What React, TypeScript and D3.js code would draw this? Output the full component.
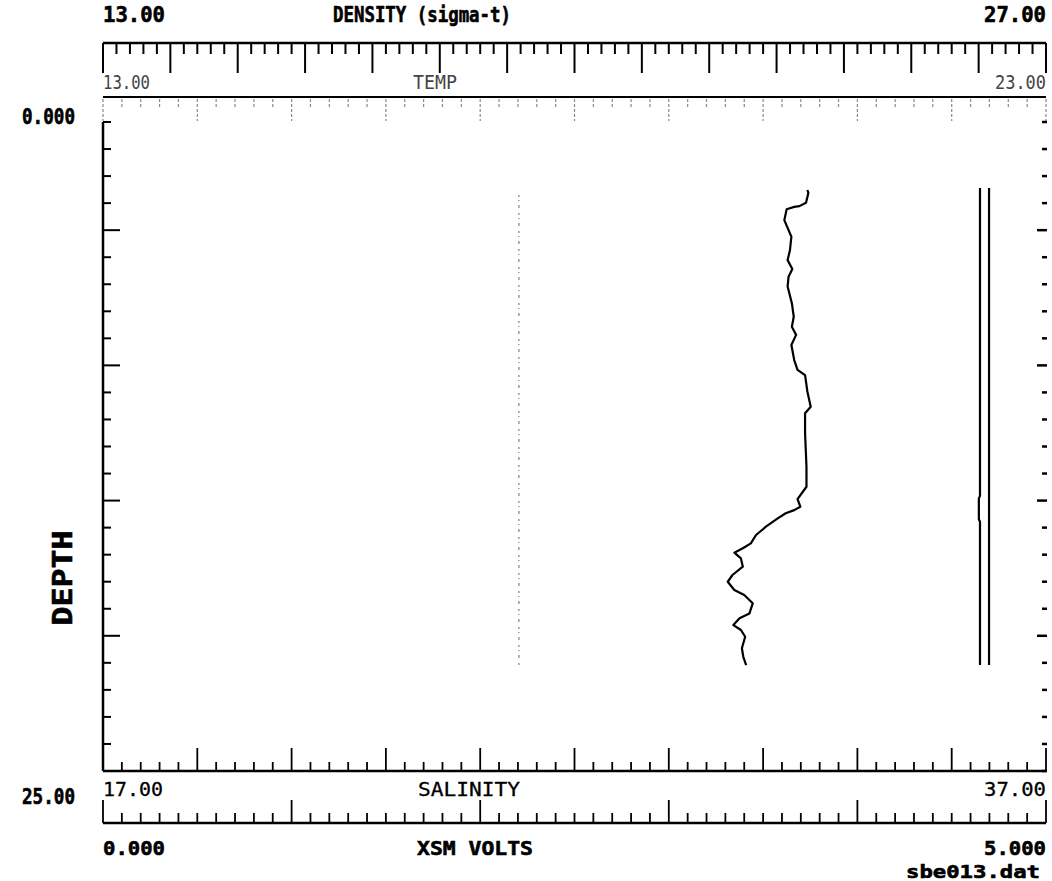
import React from "react";
import * as d3 from "d3";

// ---- data ----
const salDepth = [2.62, 2.73, 3.11, 3.24, 3.27, 3.36, 3.78, 4.08, 4.42, 4.93, 5.32, 5.66, 5.96, 6.34, 6.98, 7.5, 7.89, 8.2, 8.59, 9.17, 9.55, 9.75, 10.39, 10.97, 11.22, 11.98, 13.28, 14.05, 14.53, 14.82, 14.95, 15.07, 15.27, 15.59, 15.91, 16.23, 16.42, 16.59, 16.81, 17.13, 17.45, 17.71, 18.03, 18.22, 18.54, 18.93, 19.12, 19.38, 19.57, 19.83, 20.27, 20.6, 20.92];
const salinity = [31.94, 31.96, 31.91, 31.77, 31.66, 31.5, 31.45, 31.52, 31.6, 31.57, 31.52, 31.62, 31.54, 31.52, 31.61, 31.65, 31.61, 31.7, 31.6, 31.66, 31.73, 31.89, 31.94, 32.01, 31.89, 31.89, 31.92, 31.92, 31.73, 31.79, 31.66, 31.48, 31.31, 31.06, 30.85, 30.74, 30.57, 30.39, 30.53, 30.57, 30.35, 30.25, 30.39, 30.6, 30.78, 30.71, 30.5, 30.37, 30.53, 30.62, 30.55, 30.58, 30.64];

const tempDepth = [2.81, 20.92];
const temperature = [17.41, 17.41];

const voltDepthA = [2.54, 14.4, 14.5, 15.3, 15.4, 20.92];
const voltsA = [4.65, 4.65, 4.644, 4.644, 4.65, 4.65];
const voltDepthB = [2.54, 20.92];
const voltsB = [4.698, 4.698];

const densityDomain = [13, 27];
const tempDomain = [13, 23];
const salDomain = [17, 37];
const voltDomain = [0, 5];
const depthDomain = [0, 25];

const densityLabels = ["13.00", "DENSITY (sigma-t)", "27.00"];
const tempLabels = ["13.00", "TEMP", "23.00"];
const salLabels = ["17.00", "SALINITY", "37.00"];
const voltLabels = ["0.000", "XSM VOLTS", "5.000"];
const depthLabels = ["0.000", "DEPTH", "25.00"];
const fileLabel = "sbe013.dat";

const L = 103, R = 1046, T = 122, B = 771;
const yDen = 43, yTemp = 97, ySal = 771, yVolt = 823;
const FONT = "'DejaVu Sans Mono', monospace";

export default function App() {
  const xDen = d3.scaleLinear().domain(densityDomain).range([L, R]);
  const xTemp = d3.scaleLinear().domain(tempDomain).range([L, R]);
  const xSal = d3.scaleLinear().domain(salDomain).range([L, R]);
  const xVolt = d3.scaleLinear().domain(voltDomain).range([L, R]);
  const yDepth = d3.scaleLinear().domain(depthDomain).range([T, B]);

  const denTicks = d3.range(0, 71).map((i) => ({ v: densityDomain[0] + i * 0.2, major: i % 5 === 0 }));
  const tempTicks = d3.range(0, 51).map((i) => ({ v: tempDomain[0] + i * 0.2, major: i % 5 === 0 }));
  const salTicks = d3.range(0, 51).map((i) => ({ v: salDomain[0] + i * 0.4, major: i % 5 === 0 }));
  const voltTicks = d3.range(0, 51).map((i) => ({ v: i * 0.1, major: i % 10 === 0 }));
  const depthTicks = d3.range(0, 25).map((i) => ({ v: (i * 25) / 24, major: i > 0 && i < 24 && (24 - i) % 5 === 0 }));

  const salLine = d3.line<number>().x((_, i) => xSal(salinity[i])).y((_, i) => yDepth(salDepth[i])).curve(d3.curveLinear);
  const tempLine = d3.line<number>().x((_, i) => xTemp(temperature[i])).y((_, i) => yDepth(tempDepth[i]));
  const vA = d3.line<number>().x((_, i) => xVolt(voltsA[i])).y((_, i) => yDepth(voltDepthA[i]));
  const vB = d3.line<number>().x((_, i) => xVolt(voltsB[i])).y((_, i) => yDepth(voltDepthB[i]));

  const bold = { fontFamily: FONT, fontWeight: 700, fontSize: 21, fill: "#000", stroke: "#000", strokeWidth: 0.6 } as const;
  const med = { fontFamily: FONT, fontWeight: 400, fontSize: 20, fill: "#000", stroke: "#000", strokeWidth: 0.3 } as const;
  const light = { fontFamily: FONT, fontWeight: 400, fontSize: 19, fill: "#444" } as const;

  return (
    <svg width={1052} height={881} style={{ position: "absolute", left: 0, top: 0, background: "#fff" }}>
      <rect x={0} y={0} width={1052} height={881} fill="#fff" />
      {/* density axis */}
      <text x={L} y={22} textLength={62} lengthAdjust="spacingAndGlyphs" {...bold}>{densityLabels[0]}</text>
      <text x={333} y={22} textLength={178} lengthAdjust="spacingAndGlyphs" {...bold}>{densityLabels[1]}</text>
      <text x={R} y={22} textAnchor="end" textLength={62} lengthAdjust="spacingAndGlyphs" {...bold}>{densityLabels[2]}</text>
      <line x1={L} x2={R} y1={yDen} y2={yDen} stroke="#000" strokeWidth={2.5} />
      {denTicks.map((t, i) => (
        <line key={"d" + i} x1={xDen(t.v)} x2={xDen(t.v)} y1={yDen} y2={yDen + (t.major ? 30 : 11)} stroke="#000" strokeWidth={2} />
      ))}
      {/* temp axis */}
      <text x={L} y={89} textLength={47} lengthAdjust="spacingAndGlyphs" {...light}>{tempLabels[0]}</text>
      <text x={413} y={89} textLength={44} lengthAdjust="spacingAndGlyphs" {...light}>{tempLabels[1]}</text>
      <text x={R} y={89} textAnchor="end" textLength={51} lengthAdjust="spacingAndGlyphs" {...light}>{tempLabels[2]}</text>
      <line x1={L} x2={R} y1={yTemp} y2={yTemp} stroke="#000" strokeWidth={2} />
      {tempTicks.map((t, i) => (
        <line key={"t" + i} x1={xTemp(t.v)} x2={xTemp(t.v)} y1={yTemp + 2} y2={yTemp + (t.major ? 24 : 10)} stroke="#888" strokeWidth={1.2} strokeDasharray="3 2" />
      ))}
      {/* depth axis */}
      <text x={75} y={124} textAnchor="end" textLength={53} lengthAdjust="spacingAndGlyphs" {...bold}>{depthLabels[0]}</text>
      <text x={75} y={804} textAnchor="end" textLength={53} lengthAdjust="spacingAndGlyphs" {...bold}>{depthLabels[2]}</text>
      <text transform="translate(72,578) rotate(-90)" textAnchor="middle" textLength={95} lengthAdjust="spacingAndGlyphs" fontFamily={FONT} fontWeight={700} fontSize={26} stroke="#000" strokeWidth={0.6}>{depthLabels[1]}</text>
      <line x1={L} x2={L} y1={T} y2={B} stroke="#000" strokeWidth={2.5} />
      {depthTicks.map((t, i) => (
        <g key={"y" + i}>
          <line x1={L} x2={L + (t.major ? 17 : 8)} y1={yDepth(t.v)} y2={yDepth(t.v)} stroke="#000" strokeWidth={2} />
          <line x1={R + 1} x2={R + 1 - (t.major ? 10 : 5)} y1={yDepth(t.v)} y2={yDepth(t.v)} stroke="#000" strokeWidth={2.5} />
        </g>
      ))}
      {/* salinity axis */}
      <line x1={L} x2={R} y1={ySal} y2={ySal} stroke="#000" strokeWidth={2.5} />
      {salTicks.map((t, i) => (
        <line key={"s" + i} x1={xSal(t.v)} x2={xSal(t.v)} y1={ySal} y2={ySal - (t.major ? 23 : 9)} stroke="#000" strokeWidth={1.8} />
      ))}
      <text x={L} y={796} textLength={60} lengthAdjust="spacingAndGlyphs" {...med}>{salLabels[0]}</text>
      <text x={418} y={796} textLength={102} lengthAdjust="spacingAndGlyphs" {...med}>{salLabels[1]}</text>
      <text x={R} y={796} textAnchor="end" textLength={62} lengthAdjust="spacingAndGlyphs" {...med}>{salLabels[2]}</text>
      {/* volts axis */}
      <line x1={L} x2={R} y1={yVolt} y2={yVolt} stroke="#000" strokeWidth={2.5} />
      {voltTicks.map((t, i) => (
        <line key={"v" + i} x1={xVolt(t.v)} x2={xVolt(t.v)} y1={yVolt} y2={yVolt - (t.major ? 23 : 10)} stroke="#000" strokeWidth={1.8} />
      ))}
      <text x={L} y={855} textLength={62} lengthAdjust="spacingAndGlyphs" {...bold} fontSize={20}>{voltLabels[0]}</text>
      <text x={417} y={855} textLength={116} lengthAdjust="spacingAndGlyphs" {...bold} fontSize={20}>{voltLabels[1]}</text>
      <text x={R} y={855} textAnchor="end" textLength={62} lengthAdjust="spacingAndGlyphs" {...bold} fontSize={20}>{voltLabels[2]}</text>
      <text x={1040} y={878} textAnchor="end" textLength={134} lengthAdjust="spacingAndGlyphs" {...bold} fontSize={18}>{fileLabel}</text>
      {/* data */}
      <path d={tempLine(temperature) || ""} fill="none" stroke="#999" strokeWidth={1.5} strokeDasharray="2 3 1 4 3 5" />
      <path d={salLine(salinity) || ""} fill="none" stroke="#000" strokeWidth={2.2} strokeLinejoin="round" />
      <path d={vA(voltsA) || ""} fill="none" stroke="#000" strokeWidth={2.2} />
      <path d={vB(voltsB) || ""} fill="none" stroke="#000" strokeWidth={2.2} />
    </svg>
  );
}
